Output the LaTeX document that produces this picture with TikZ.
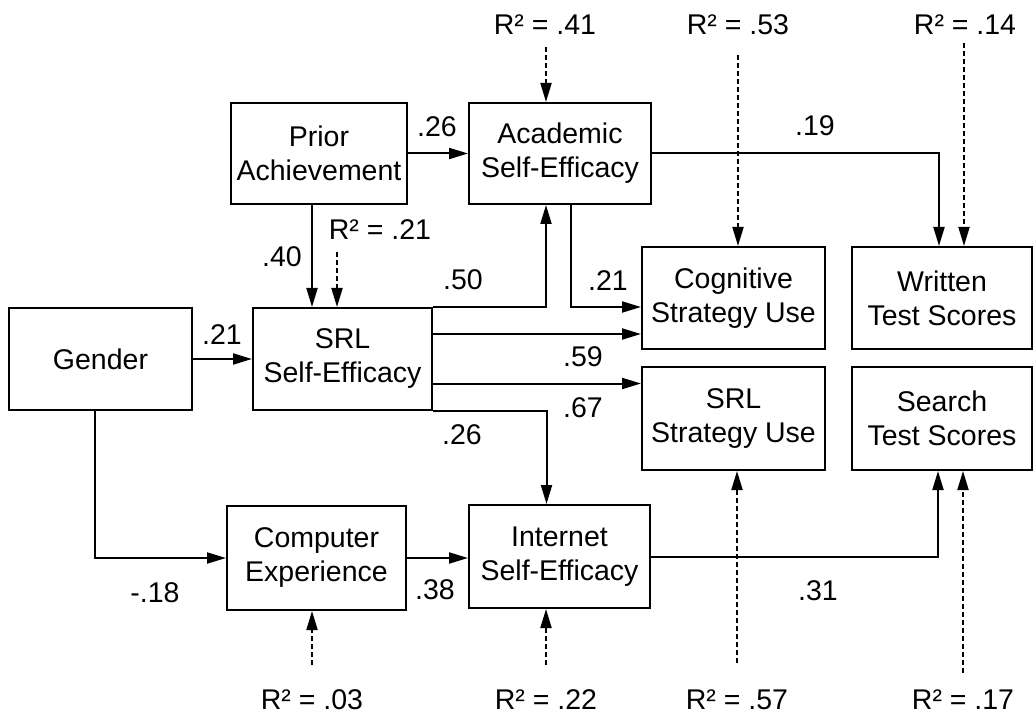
\documentclass[tikz,border=0pt]{standalone}
\usepackage{fontspec}
\setmainfont{Liberation Sans}
\usetikzlibrary{arrows.meta}
\begin{document}
\begin{tikzpicture}[x=1pt,y=-1pt,
  font=\fontsize{28.5}{34}\selectfont,
  box/.style={draw, line width=2pt, align=center, inner sep=0pt},
  arr/.style={line width=2pt, -{Triangle[length=19pt,width=11pt]}},
  darr/.style={line width=2pt, dash pattern=on 5pt off 3pt, -{Triangle[length=19pt,width=11pt]}},
  lab/.style={inner sep=0pt}]
\useasboundingbox (0,0) rectangle (1034,714);
\fill[white] (0,0) rectangle (1034,714);

% boxes
\node[box, minimum width=176pt, minimum height=101pt] (prior) at (319,153.5) {Prior\\Achievement};
\node[box, minimum width=182pt, minimum height=101pt] (acad) at (560,153.5) {Academic\\Self-Efficacy};
\node[box, minimum width=179pt, minimum height=102pt] (srl) at (342.5,359) {SRL\\Self-Efficacy};
\node[box, minimum width=183pt, minimum height=102pt] (gender) at (100.5,359) {Gender};
\node[box, minimum width=179pt, minimum height=104pt] (comp) at (316.5,558) {Computer\\Experience};
\node[box, minimum width=181pt, minimum height=103pt] (inet) at (559.5,556.5) {Internet\\Self-Efficacy};
\node[box, minimum width=183pt, minimum height=102pt] (cog) at (733.5,298) {Cognitive\\Strategy Use};
\node[box, minimum width=180pt, minimum height=102pt] (written) at (942,298) {Written\\Test Scores};
\node[box, minimum width=183pt, minimum height=103pt] (srlsu) at (733.5,418.5) {SRL\\Strategy Use};
\node[box, minimum width=180pt, minimum height=103pt] (search) at (942,418.5) {Search\\Test Scores};

% solid paths
\draw[arr] (prior) -- (acad);
\draw[arr] (acad.east) -| ([xshift=-3pt]written.north);
\draw[arr] ([xshift=11pt]acad.south) |- ([yshift=-9pt]cog.west);
\draw[arr] (srl.north east) -| ([xshift=-14pt]acad.south);
\draw[arr] ([yshift=25pt]srl.east) -- ([yshift=-36pt]cog.west);
\draw[arr] ([yshift=-24.5pt]srl.east) -- ([yshift=35pt]srlsu.west);
\draw[arr] (srl.south east) -| ([xshift=-13pt]inet.north);
\draw[arr] (gender) -- (srl);
\draw[arr] ([xshift=-5.5pt]gender.south) |- (comp.west);
\draw[arr] (comp.east) -- (comp.east -| inet.west);
\draw[arr] (inet.east) -| ([xshift=-4pt]search.south);
\draw[arr] ([xshift=-7pt]prior.south) -- ([xshift=-30.5pt]srl.north);

% R^2 labels and dashed arrows
\node[lab] (r41) at (545,25) {R² = .41};
\node[lab] (r53) at (738,25) {R² = .53};
\node[lab] (r14) at (965,25) {R² = .14};
\node[lab] (r21) at (380,230) {R² = .21};
\node[lab] (r03) at (312,700) {R² = .03};
\node[lab] (r22) at (546,700) {R² = .22};
\node[lab] (r57) at (737,700) {R² = .57};
\node[lab] (r17) at (963,700) {R² = .17};

\coordinate (d41) at (546,47);
\coordinate (d53) at (738,55);
\coordinate (d14) at (964,43);
\coordinate (d21) at (337,252);
\coordinate (d03) at (312,665);
\coordinate (d22) at (546,665);
\coordinate (d57) at (737,663);
\coordinate (d17) at (963,673);
\draw[darr] (d41) -- (d41 |- acad.north);
\draw[darr] (d53) -- (d53 |- cog.north);
\draw[darr] (d14) -- (d14 |- written.north);
\draw[darr] (d21) -- (d21 |- srl.north);
\draw[darr] (d03) -- (d03 |- comp.south);
\draw[darr] (d22) -- (d22 |- inet.south);
\draw[darr] (d57) -- (d57 |- srlsu.south);
\draw[darr] (d17) -- (d17 |- search.south);

% path coefficients
\node[lab] (c1) at (437,127) {.26};
\node[lab] (c2) at (815,126) {.19};
\node[lab] (c3) at (282,257) {.40};
\node[lab] (c4) at (463,280) {.50};
\node[lab] (c5) at (608,281) {.21};
\node[lab] (c6) at (222,335) {.21};
\node[lab] (c7) at (583,357) {.59};
\node[lab] (c8) at (583,408) {.67};
\node[lab] (c9) at (462,435) {.26};
\node[lab] (c10) at (155,593) {-.18};
\node[lab] (c11) at (435,590) {.38};
\node[lab] (c12) at (818,591) {.31};
\end{tikzpicture}
\end{document}
